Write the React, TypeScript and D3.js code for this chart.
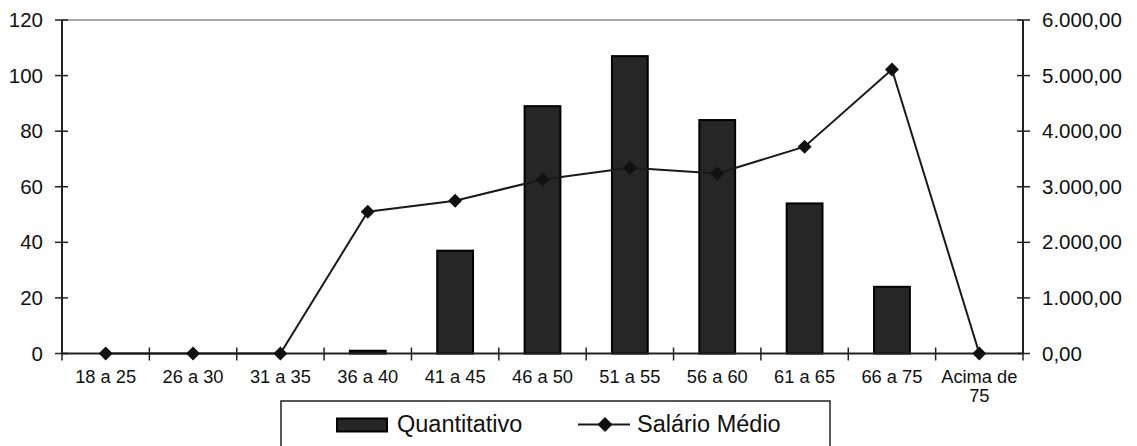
import React from "react";
import * as d3 from "d3";

const categories = ["18 a 25", "26 a 30", "31 a 35", "36 a 40", "41 a 45", "46 a 50", "51 a 55", "56 a 60", "61 a 65", "66 a 75", "Acima de\n75"];
const quantitativo = [0, 0, 0, 1, 37, 89, 107, 84, 54, 24, 0];
const salarioMedio = [0, 0, 0, 2550, 2750, 3130, 3340, 3240, 3720, 5110, 0];
const leftTicks = [0, 20, 40, 60, 80, 100, 120];
const rightTicks = [0, 1000, 2000, 3000, 4000, 5000, 6000];

const W = 1137, H = 446;
const M = { left: 62, right: 1023, top: 20, bottom: 353.5 };
const FONT = "'Liberation Sans', Arial, sans-serif";
const ptBR = d3.formatLocale({ decimal: ",", thousands: ".", grouping: [3], currency: ["R$", ""] });
const fmtR = ptBR.format(",.2f");

function T({ x, y, anchor = "start", size = 17, children }: any) {
  return (
    <text x={x} y={y} textAnchor={anchor} fontSize={size} fontFamily={FONT} fill="#111">
      {children}
    </text>
  );
}

export default function App() {
  const x = d3.scaleBand<string>().domain(categories).range([M.left, M.right]).paddingInner(0).paddingOuter(0);
  const yL = d3.scaleLinear().domain([0, 120]).range([M.bottom, M.top]);
  const yR = d3.scaleLinear().domain([0, 6000]).range([M.bottom, M.top]);
  const bw = x.bandwidth() * 0.41;
  const cx = (c: string) => (x(c) as number) + x.bandwidth() / 2;
  const line = d3.line<number>().x((_, i) => cx(categories[i])).y((d) => yR(d));
  const dia = (px: number, py: number, r = 7) => `M${px},${py - r}L${px + r},${py}L${px},${py + r}L${px - r},${py}Z`;

  return (
    <svg width={W} height={H} style={{ position: "absolute", left: 0, top: 0 }}>
      <rect x={0} y={0} width={W} height={H} fill="#fff" />
      {/* top border */}
      <line x1={M.left} x2={M.right} y1={M.top} y2={M.top} stroke="#8a8a8a" strokeWidth={1.5} />
      {/* bars */}
      {categories.map((c, i) => (
        quantitativo[i] > 0 ? (
          <rect key={c} x={cx(c) - bw / 2} y={yL(quantitativo[i])} width={bw} height={M.bottom - yL(quantitativo[i])}
            fill="#262626" stroke="#000" strokeWidth={2} />
        ) : null
      ))}
      {/* axes */}
      <line x1={M.left} x2={M.left} y1={M.top} y2={M.bottom} stroke="#222" strokeWidth={2} />
      <line x1={M.right} x2={M.right} y1={M.top} y2={M.bottom} stroke="#222" strokeWidth={2} />
      <line x1={M.left} x2={M.right} y1={M.bottom} y2={M.bottom} stroke="#222" strokeWidth={2} />
      {leftTicks.map((t) => (
        <g key={"l" + t}>
          <line x1={M.left - 7} x2={M.left + 6} y1={yL(t)} y2={yL(t)} stroke="#222" strokeWidth={1.5} />
          <T x={43} y={yL(t) + 7} anchor="end" size={20.5}>{String(t)}</T>
        </g>
      ))}
      {rightTicks.map((t) => (
        <g key={"r" + t}>
          <line x1={M.right - 6} x2={M.right + 7} y1={yR(t)} y2={yR(t)} stroke="#222" strokeWidth={1.5} />
          <T x={1042} y={yR(t) + 7} anchor="start" size={20.5}>{fmtR(t)}</T>
        </g>
      ))}
      {d3.range(categories.length + 1).map((i) => {
        const px = M.left + i * x.bandwidth();
        return <line key={"xt" + i} x1={px} x2={px} y1={M.bottom - 6} y2={M.bottom + 7} stroke="#222" strokeWidth={1.5} />;
      })}
      {categories.map((c) => {
        const parts = c.split("\n");
        return (
          <g key={"xl" + c}>
            {parts.map((p, j) => (
              <T key={j} x={cx(c)} y={383 + j * 19} anchor="middle" size={18.3}>{p}</T>
            ))}
          </g>
        );
      })}
      {/* line */}
      <path d={line(salarioMedio) || ""} fill="none" stroke="#1a1a1a" strokeWidth={2} />
      {salarioMedio.map((v, i) => (
        <path key={"m" + i} d={dia(cx(categories[i]), yR(v))} fill="#111" />
      ))}
      {/* legend */}
      <rect x={281} y={401} width={549} height={60} fill="#fff" stroke="#222" strokeWidth={1.5} />
      <rect x={337} y={418.5} width={50} height={13} fill="#262626" stroke="#000" strokeWidth={2} />
      <T x={397} y={432} size={23.5}>Quantitativo</T>
      <line x1={578} x2={630} y1={424.5} y2={424.5} stroke="#1a1a1a" strokeWidth={2} />
      <path d={dia(605, 424.5, 7.5)} fill="#111" />
      <T x={637} y={432} size={23.5}>Salário Médio</T>
    </svg>
  );
}
